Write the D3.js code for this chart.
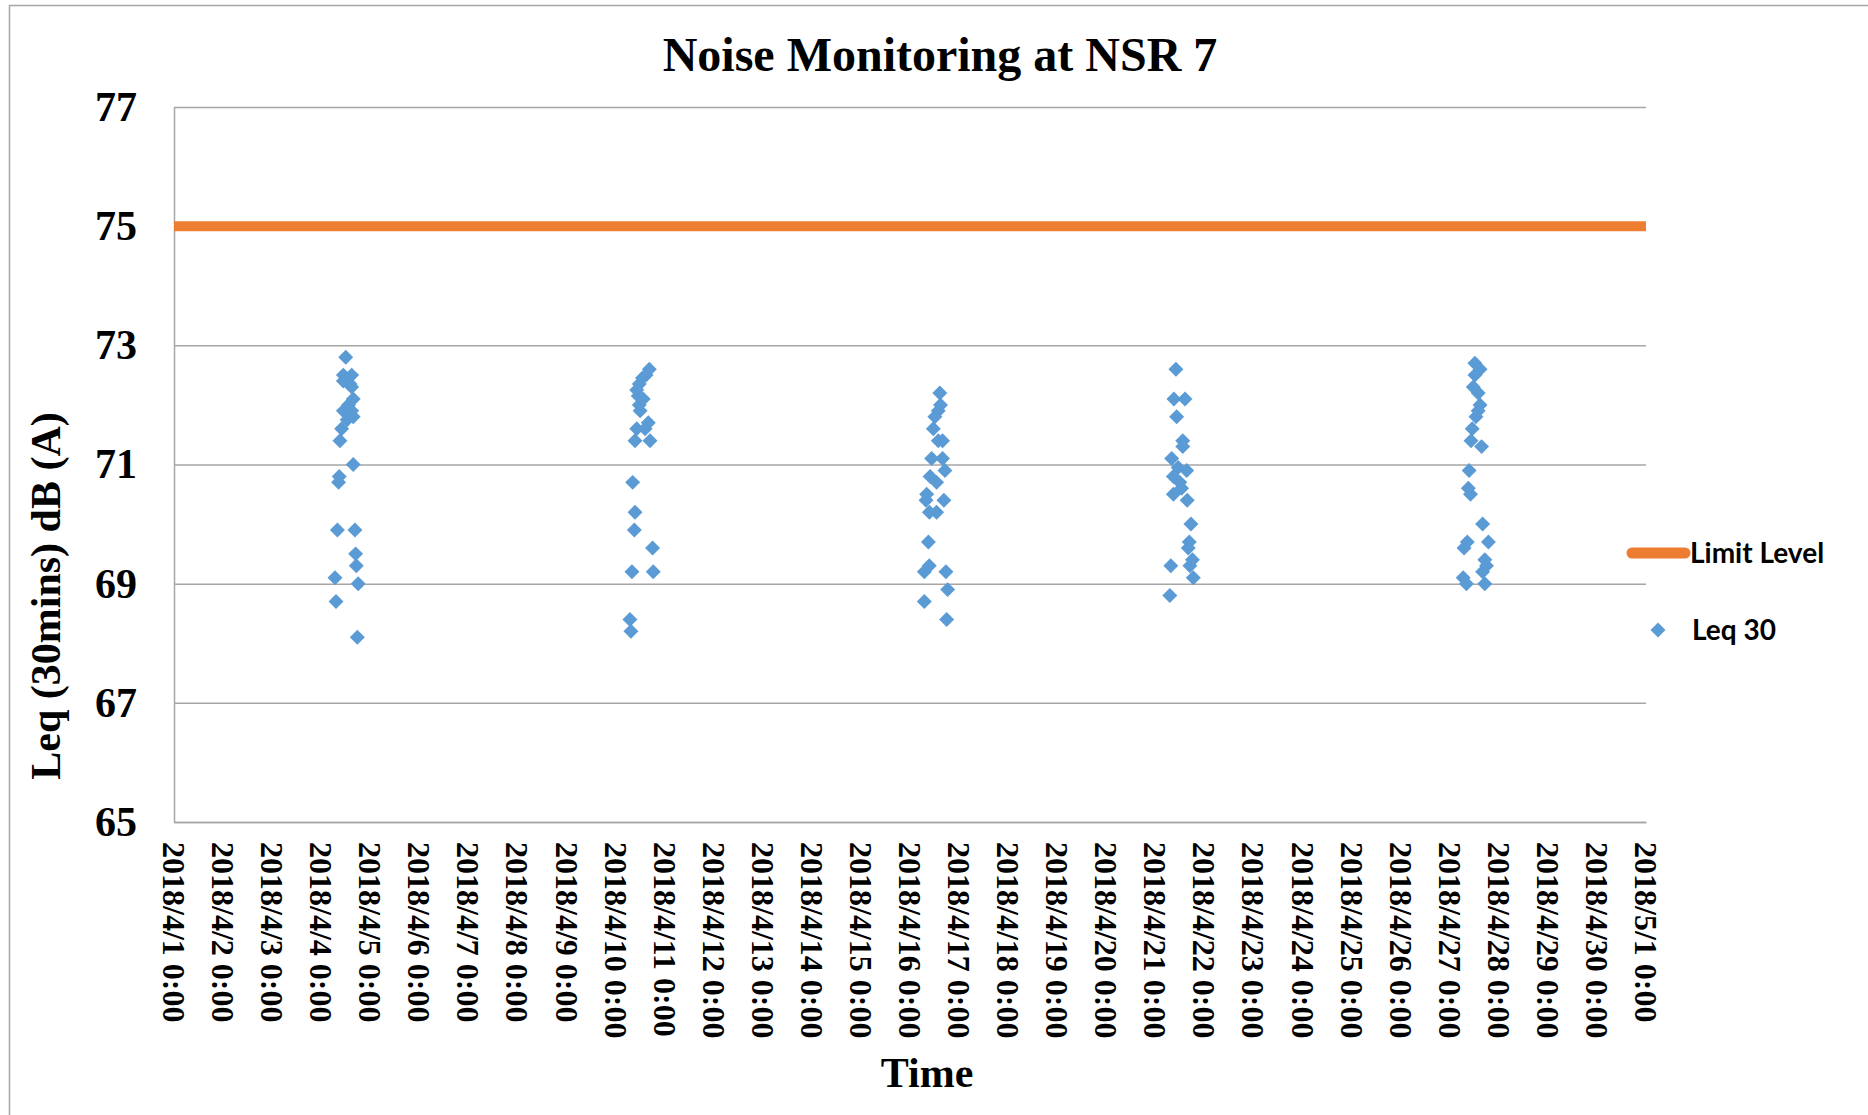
<!DOCTYPE html>
<html>
<head>
<meta charset="utf-8">
<script src="https://cdn.jsdelivr.net/npm/d3@7"></script>
<style>
  html, body { margin: 0; padding: 0; background: #ffffff; }
  svg { display: block; }
</style>
</head>
<body>
<svg id="chart" width="1868" height="1115"></svg>
<script>
// ---------------- DATA ----------------
const chartTitle = "Noise Monitoring at NSR 7";
const yAxisTitle = "Leq (30mins) dB (A)";
const xAxisTitle = "Time";
const seriesNames = ["Limit Level", "Leq 30"];

const yTicks = [65, 67, 69, 71, 73, 75, 77];
const xStart = "2018/4/1 0:00";
const xEnd = "2018/5/1 0:00";

const limitTimes = ["2018/4/1 0:00", "2018/5/1 0:00"];
const limitValues = [75, 75];

const leqTimes = [
  // 4/4
  "2018/4/4 12:00","2018/4/4 10:50","2018/4/4 14:55","2018/4/4 10:50","2018/4/4 14:05",
  "2018/4/4 14:55","2018/4/4 15:40","2018/4/4 13:20","2018/4/4 10:50","2018/4/4 14:55",
  "2018/4/4 15:40","2018/4/4 12:40","2018/4/4 10:00","2018/4/4 9:10","2018/4/4 15:40",
  "2018/4/4 8:50","2018/4/4 8:30","2018/4/4 7:55","2018/4/4 16:30","2018/4/4 16:50",
  "2018/4/4 17:10","2018/4/4 6:45","2018/4/4 18:05","2018/4/4 7:15","2018/4/4 17:40",
  // 4/10
  "2018/4/10 16:30","2018/4/10 14:55","2018/4/10 13:10","2018/4/10 11:35","2018/4/10 10:20",
  "2018/4/10 11:05","2018/4/10 13:30","2018/4/10 11:35","2018/4/10 12:00","2018/4/10 16:00",
  "2018/4/10 10:20","2018/4/10 14:25","2018/4/10 9:30","2018/4/10 16:50","2018/4/10 8:20",
  "2018/4/10 9:30","2018/4/10 9:10","2018/4/10 18:05","2018/4/10 8:00","2018/4/10 18:25",
  "2018/4/10 7:00","2018/4/10 7:30",
  // 4/16
  "2018/4/16 14:35","2018/4/16 14:55","2018/4/16 13:50","2018/4/16 12:10","2018/4/16 11:25",
  "2018/4/16 13:50","2018/4/16 15:55","2018/4/16 10:35","2018/4/16 15:55","2018/4/16 17:05",
  "2018/4/16 9:50","2018/4/16 13:00","2018/4/16 8:10","2018/4/16 7:50","2018/4/16 16:35",
  "2018/4/16 9:30","2018/4/16 13:00","2018/4/16 9:00","2018/4/16 9:25","2018/4/16 7:00",
  "2018/4/16 17:35","2018/4/16 18:25","2018/4/16 7:00","2018/4/16 17:55",
  // 4/21
  "2018/4/21 10:05","2018/4/21 9:05","2018/4/21 14:30","2018/4/21 10:25","2018/4/21 13:25",
  "2018/4/21 13:25","2018/4/21 8:00","2018/4/21 11:10","2018/4/21 15:20","2018/4/21 8:50",
  "2018/4/21 12:00","2018/4/21 12:50","2018/4/21 8:50","2018/4/21 15:35","2018/4/21 17:25",
  "2018/4/21 16:35","2018/4/21 16:05","2018/4/21 18:10","2018/4/21 16:55","2018/4/21 7:35",
  "2018/4/21 18:35","2018/4/21 7:05",
  // 4/27
  "2018/4/27 12:20","2018/4/27 14:50","2018/4/27 12:20","2018/4/27 11:30","2018/4/27 13:55",
  "2018/4/27 14:50","2018/4/27 13:55","2018/4/27 12:50","2018/4/27 11:00","2018/4/27 10:25",
  "2018/4/27 15:35","2018/4/27 9:30","2018/4/27 9:05","2018/4/27 10:10","2018/4/27 16:05",
  "2018/4/27 8:35","2018/4/27 18:55","2018/4/27 7:00","2018/4/27 17:10","2018/4/27 18:00",
  "2018/4/27 16:05","2018/4/27 6:35","2018/4/27 8:10","2018/4/27 17:10"
];
const leqValues = [
  // 4/4
  72.8, 72.5, 72.5, 72.4, 72.35,
  72.3, 72.1, 72.0, 71.9, 71.9,
  71.8, 71.75, 71.6, 71.4, 71.0,
  70.8, 70.7, 69.9, 69.9, 69.5,
  69.3, 69.1, 69.0, 68.7, 68.1,
  // 4/10
  72.6, 72.5, 72.45, 72.35, 72.25,
  72.15, 72.1, 72.0, 71.9, 71.7,
  71.6, 71.6, 71.4, 71.4, 70.7,
  70.2, 69.9, 69.6, 69.2, 69.2,
  68.4, 68.2,
  // 4/16
  72.2, 72.0, 71.9, 71.8, 71.6,
  71.4, 71.4, 71.1, 71.1, 70.9,
  70.8, 70.7, 70.5, 70.4, 70.4,
  70.2, 70.2, 69.7, 69.3, 69.2,
  69.2, 68.9, 68.7, 68.4,
  // 4/21
  72.6, 72.1, 72.1, 71.8, 71.4,
  71.3, 71.1, 70.95, 70.9, 70.8,
  70.7, 70.6, 70.5, 70.4, 70.0,
  69.7, 69.6, 69.4, 69.3, 69.3,
  69.1, 68.8,
  // 4/27
  72.7, 72.6, 72.5, 72.3, 72.2,
  72.0, 71.9, 71.8, 71.6, 71.4,
  71.3, 70.9, 70.6, 70.5, 70.0,
  69.7, 69.7, 69.6, 69.4, 69.3,
  69.2, 69.1, 69.0, 69.0
];

// ---------------- LAYOUT ----------------
const W = 1868, H = 1115;
const plot = { left: 174, right: 1646, top: 107, bottom: 822 };
const serif = "'Liberation Serif', 'Times New Roman', serif";
const sans = "Lato, 'Noto Sans', sans-serif";
const blue = "#5B9BD5", orange = "#ED7D31", grid = "#A6A6A6";

const parse = d3.timeParse("%Y/%-m/%-d %-H:%M");
const fmt = d3.timeFormat("%Y/%-m/%-d %-H:%M");

const svg = d3.select("#chart");

// outer chart border
svg.append("rect")
  .attr("x", 9.5).attr("y", 5.5)
  .attr("width", W + 20).attr("height", H + 20)
  .attr("fill", "none").attr("stroke", "#A6A6A6").attr("stroke-width", 1.5);

const x = d3.scaleTime()
  .domain([parse(xStart), parse(xEnd)])
  .range([plot.left, plot.right]);
const y = d3.scaleLinear()
  .domain([d3.min(yTicks), d3.max(yTicks)])
  .range([plot.bottom, plot.top]);

// y axis with gridlines
const yAxis = svg.append("g")
  .attr("transform", `translate(${plot.left},0)`)
  .call(d3.axisLeft(y).tickValues(yTicks).tickFormat(d3.format("d"))
    .tickSizeInner(-(plot.right - plot.left)).tickSizeOuter(0).tickPadding(37));
yAxis.select(".domain").attr("stroke", grid).attr("stroke-width", 1.5);
yAxis.selectAll(".tick line").attr("stroke", grid).attr("stroke-width", 1.5);
yAxis.selectAll(".tick text")
  .attr("font-family", serif).attr("font-weight", "bold")
  .attr("font-size", 42).attr("fill", "#000");

// x axis
const days = d3.timeDay.range(parse(xStart), d3.timeDay.offset(parse(xEnd), 1));
const xAxis = svg.append("g")
  .attr("transform", `translate(0,${plot.bottom})`)
  .call(d3.axisBottom(x).tickValues(days).tickFormat(fmt).tickSize(0));
xAxis.select(".domain").attr("stroke", grid).attr("stroke-width", 1.5);
xAxis.selectAll(".tick text")
  .attr("font-family", serif).attr("font-weight", "bold")
  .attr("font-size", 32).attr("fill", "#000")
  .attr("transform", "rotate(90)")
  .attr("text-anchor", "start")
  .attr("x", 20).attr("y", 0).attr("dy", "0.36em");

// limit line
const line = d3.line().x(d => x(d.t)).y(d => y(d.v));
const limitData = limitTimes.map((t, i) => ({ t: parse(t), v: limitValues[i] }));
svg.append("path")
  .datum(limitData)
  .attr("d", line)
  .attr("fill", "none").attr("stroke", orange)
  .attr("stroke-width", 10).attr("stroke-linecap", "butt");

// Leq points
const leqData = leqTimes.map((t, i) => ({ t: parse(t), v: leqValues[i] }));
const diamond = d3.symbol().type(d3.symbolSquare).size(112);
svg.append("g").selectAll("path")
  .data(leqData).join("path")
  .attr("d", diamond)
  .attr("transform", d => `translate(${x(d.t)},${y(d.v)}) rotate(45)`)
  .attr("fill", blue);

// titles
svg.append("text")
  .attr("x", 940).attr("y", 71)
  .attr("text-anchor", "middle")
  .attr("font-family", serif).attr("font-weight", "bold").attr("font-size", 48)
  .text(chartTitle);

svg.append("text")
  .attr("transform", "translate(60,596) rotate(-90)")
  .attr("text-anchor", "middle")
  .attr("font-family", serif).attr("font-weight", "bold").attr("font-size", 42)
  .text(yAxisTitle);

svg.append("text")
  .attr("x", 927).attr("y", 1087)
  .attr("text-anchor", "middle")
  .attr("font-family", serif).attr("font-weight", "bold").attr("font-size", 42)
  .text(xAxisTitle);

// legend
const leg = svg.append("g");
leg.append("line")
  .attr("x1", 1632).attr("x2", 1685).attr("y1", 553).attr("y2", 553)
  .attr("stroke", orange).attr("stroke-width", 11).attr("stroke-linecap", "round");
leg.append("text")
  .attr("x", 1690).attr("y", 563)
  .attr("font-family", sans).attr("font-weight", "bold").attr("font-size", 28)
  .text(seriesNames[0]);
leg.append("path")
  .attr("d", diamond)
  .attr("transform", "translate(1658,630) rotate(45)")
  .attr("fill", blue);
leg.append("text")
  .attr("x", 1692).attr("y", 640)
  .attr("font-family", sans).attr("font-weight", "bold").attr("font-size", 28)
  .text(seriesNames[1]);
</script>
</body>
</html>
